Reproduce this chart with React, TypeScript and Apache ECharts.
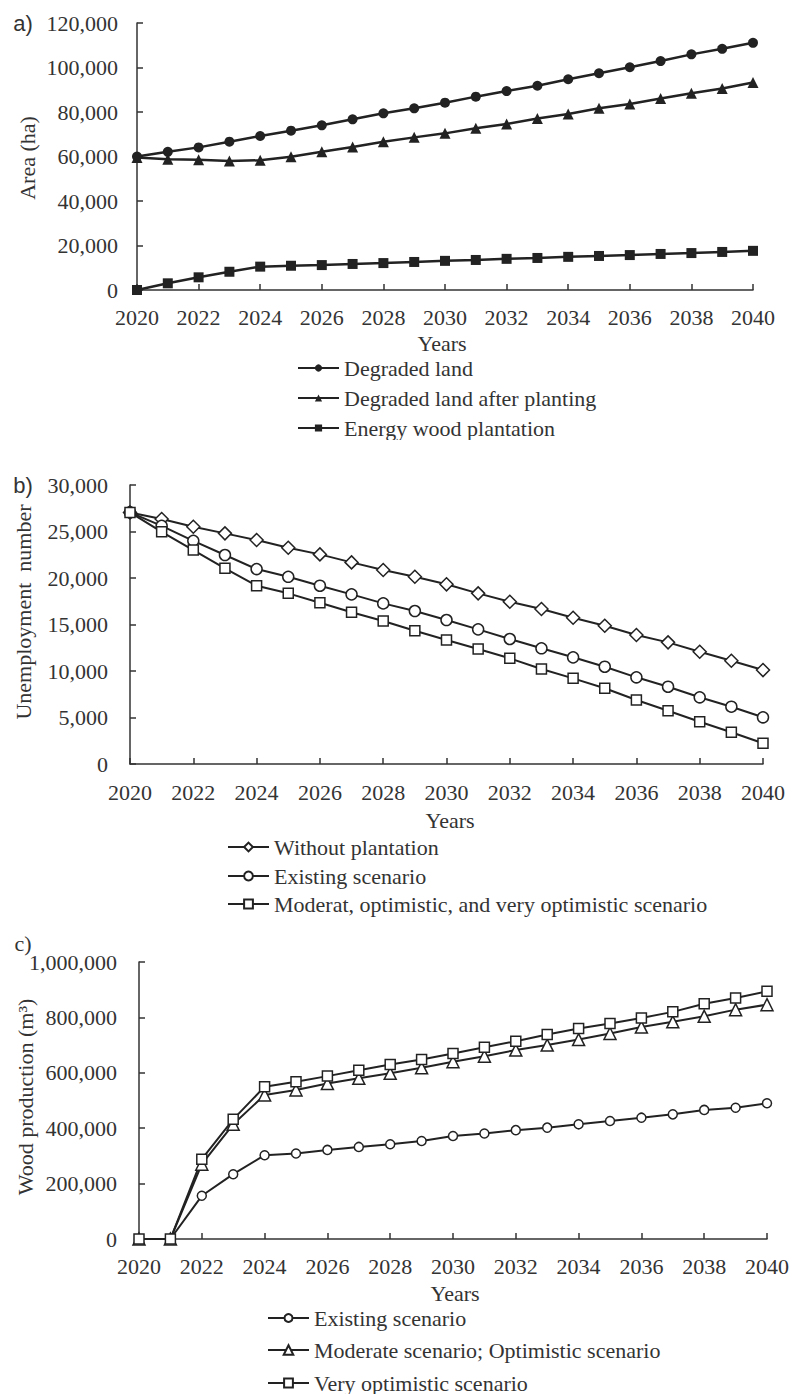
import React, { useEffect, useRef } from "react";
import * as echarts from "echarts";

const years = [2020, 2021, 2022, 2023, 2024, 2025, 2026, 2027, 2028, 2029, 2030, 2031, 2032, 2033, 2034, 2035, 2036, 2037, 2038, 2039, 2040];

// Panel a) Area (ha)
const degradedLand = [60000, 62100, 64100, 66650, 69200, 71600, 74000, 76700, 79400, 81650, 84200, 86900, 89400, 91800, 94700, 97400, 100100, 102900, 105900, 108400, 111100];
const degradedAfterPlanting = [59500, 58800, 58500, 58000, 58300, 59900, 62100, 64300, 66600, 68600, 70400, 72700, 74600, 77100, 79100, 81650, 83600, 86100, 88400, 90600, 93300];
const energyWood = [0, 3000, 5700, 8200, 10500, 10900, 11200, 11700, 12100, 12600, 13100, 13500, 14000, 14400, 14900, 15300, 15700, 16200, 16600, 17100, 17600];

// Panel b) Unemployment number
const withoutPlantation = [27050, 26340, 25510, 24800, 24080, 23250, 22540, 21680, 20860, 20130, 19320, 18350, 17450, 16660, 15730, 14870, 13870, 13080, 12070, 11100, 10100];
const existingB = [27050, 25600, 24000, 22470, 20960, 20130, 19170, 18240, 17270, 16450, 15480, 14480, 13440, 12440, 11470, 10460, 9320, 8310, 7170, 6160, 5020];
const moderatB = [27050, 24970, 23000, 21040, 19170, 18350, 17340, 16310, 15370, 14330, 13330, 12360, 11360, 10210, 9210, 8140, 6880, 5730, 4550, 3410, 2230];

// Panel c) Wood production (m3)
const existingC = [0, 0, 156000, 234000, 302500, 308600, 321600, 332400, 342100, 354000, 372000, 381000, 393000, 402000, 414000, 426000, 438000, 450000, 466000, 474000, 490000];
const moderateC = [0, 0, 270000, 414000, 520000, 538000, 561000, 580000, 598000, 618000, 640000, 660000, 682000, 700000, 720000, 742000, 765000, 784000, 804000, 828000, 846000];
const veryOptC = [0, 0, 288000, 432000, 550000, 568000, 588000, 609000, 630000, 648000, 670000, 692000, 714000, 738000, 760000, 778000, 798000, 820000, 849000, 870000, 894000];

const SERIF = "Liberation Serif";
const SANS = "Liberation Sans";
const TEXT = "#333";
const LINE = "#222";
const AX = "#333";

const pairs = (vals: number[]) => years.map((y, i) => [y, vals[i]]);
const fmt = (v: number) => v.toLocaleString("en-US");

function xAxis(margin: number) {
  return {
    type: "value",
    min: 2020,
    max: 2040,
    interval: 2,
    axisLine: { show: true, lineStyle: { color: AX, width: 1.5 } },
    axisTick: { show: true, inside: true, length: 6, lineStyle: { color: AX, width: 1.5 } },
    axisLabel: { margin, fontFamily: SERIF, fontSize: 22, color: TEXT, formatter: (v: number) => String(v) },
    splitLine: { show: false },
  };
}

function yAxis(max: number, interval: number, margin: number) {
  return {
    type: "value",
    min: 0,
    max,
    interval,
    axisLine: { show: true, lineStyle: { color: AX, width: 1.5 } },
    axisTick: { show: true, inside: true, length: 6, lineStyle: { color: AX, width: 1.5 } },
    axisLabel: { margin, fontFamily: SERIF, fontSize: 22, color: TEXT, formatter: fmt },
    splitLine: { show: false },
  };
}

function ser(name: string, data: number[], symbol: string, size: number, filled: boolean, lw: number) {
  return {
    type: "line",
    name,
    data: pairs(data),
    symbol,
    symbolSize: size,
    showSymbol: true,
    lineStyle: { color: LINE, width: lw },
    itemStyle: filled ? { color: LINE } : { color: "#fff", borderColor: LINE, borderWidth: 1.5 },
    emphasis: { disabled: true },
    silent: true,
  };
}

function leg(name: string, left: number, cy: number, ih: number) {
  return {
    data: [name],
    left,
    top: cy - 11,
    padding: 0,
    orient: "horizontal",
    itemWidth: 41,
    itemHeight: ih,
    selectedMode: false,
    textStyle: { fontFamily: SERIF, fontSize: 22, color: TEXT },
  };
}

function txt(text: string, x: number, y: number, opts: any = {}) {
  return {
    type: "text",
    x,
    y,
    rotation: opts.rotate ? Math.PI / 2 : 0,
    style: {
      text,
      fontFamily: opts.font || SERIF,
      fontSize: opts.size || 22,
      fill: TEXT,
      textAlign: "center",
      textVerticalAlign: "middle",
    },
  };
}

const optA = {
  animation: false,
  backgroundColor: "#fff",
  grid: { left: 137, top: 23, width: 616, height: 267 },
  xAxis: xAxis(16),
  yAxis: yAxis(120000, 20000, 19),
  series: [
    ser("Degraded land", degradedLand, "circle", 10, true, 2.5),
    ser("Degraded land after planting", degradedAfterPlanting, "triangle", 11, true, 2.5),
    ser("Energy wood plantation", energyWood, "rect", 10, true, 2.5),
  ],
  legend: [
    leg("Degraded land", 297, 368, 9),
    leg("Degraded land after planting", 297, 398, 9),
    leg("Energy wood plantation", 297, 428, 9),
  ],
  graphic: [
    txt("a)", 23, 23, { font: SANS }),
    txt("Area (ha)", 27, 158, { rotate: true }),
    txt("Years", 442, 343),
  ],
};

const optB = {
  animation: false,
  backgroundColor: "#fff",
  grid: { left: 130, top: 45, width: 633, height: 279 },
  xAxis: xAxis(17),
  yAxis: yAxis(30000, 5000, 22),
  series: [
    ser("Without plantation", withoutPlantation, "diamond", 13, false, 2),
    ser("Existing scenario", existingB, "circle", 11, false, 2),
    ser("Moderat, optimistic, and very optimistic scenario", moderatB, "rect", 10, false, 2),
  ],
  legend: [
    leg("Without plantation", 227, 407, 11),
    leg("Existing scenario", 227, 436, 11),
    leg("Moderat, optimistic, and very optimistic scenario", 227, 464, 11),
  ],
  graphic: [
    txt("b)", 23, 45, { font: SANS }),
    txt("Unemployment  number", 23, 172, { rotate: true }),
    txt("Years", 450, 380),
  ],
};

const optC = {
  animation: false,
  backgroundColor: "#fff",
  grid: { left: 139, top: 42, width: 629, height: 277 },
  xAxis: xAxis(16),
  yAxis: yAxis(1000000, 200000, 22),
  series: [
    ser("Existing scenario", existingC, "circle", 9, false, 2),
    ser("Moderate scenario; Optimistic scenario", moderateC, "triangle", 12, false, 2),
    ser("Very optimistic scenario", veryOptC, "rect", 10, false, 2),
  ],
  legend: [
    leg("Existing scenario", 267, 398, 10),
    leg("Moderate scenario; Optimistic scenario", 267, 430, 12),
    leg("Very optimistic scenario", 267, 463, 11),
  ],
  graphic: [
    txt("c)", 23, 23),
    txt("Wood production (m³)", 25, 177, { rotate: true }),
    txt("Years", 455, 373),
  ],
};

export default function App() {
  const r1 = useRef<HTMLDivElement>(null);
  const r2 = useRef<HTMLDivElement>(null);
  const r3 = useRef<HTMLDivElement>(null);
  useEffect(() => {
    const list: [any, any][] = [
      [r1, optA],
      [r2, optB],
      [r3, optC],
    ];
    const charts = list.map(([r, o]) => {
      const c = echarts.init(r.current, null, { renderer: "svg" });
      c.setOption(o);
      return c;
    });
    return () => charts.forEach((c) => c.dispose());
  }, []);
  return (
    <div style={{ position: "absolute", left: 0, top: 0, width: 792, height: 1394, background: "#fff" }}>
      <div ref={r1} style={{ position: "absolute", left: 0, top: 0, width: 792, height: 440 }} />
      <div ref={r2} style={{ position: "absolute", left: 0, top: 440, width: 792, height: 480 }} />
      <div ref={r3} style={{ position: "absolute", left: 0, top: 920, width: 792, height: 474 }} />
    </div>
  );
}
